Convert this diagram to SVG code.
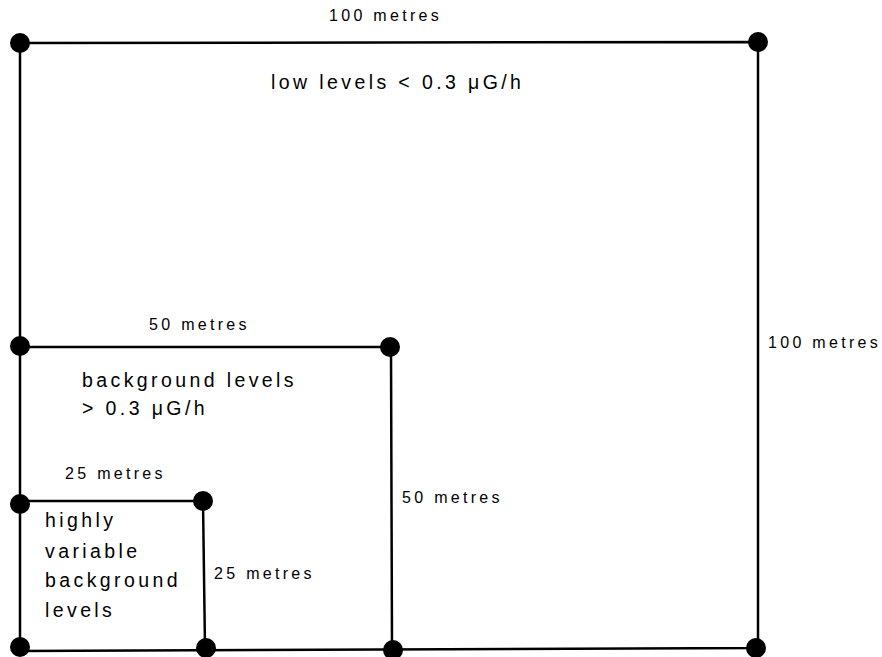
<svg xmlns="http://www.w3.org/2000/svg" width="882" height="657" viewBox="0 0 882 657">
<style>
.ln{stroke:#000;stroke-width:2.5;fill:none}
.dot{fill:#000}
.lbl{font-family:"Liberation Sans",Arial,sans-serif;font-size:16px;letter-spacing:3.3px;fill:#000}
.big{font-family:"Liberation Sans",Arial,sans-serif;font-size:19.5px;letter-spacing:3.4px;fill:#000}
</style>
<rect width="882" height="657" fill="#fff"/>
<g id="connectors">
<path class="ln" d="M20,43 L758,42 L758,648 L20,651 Z"/>
<path class="ln" d="M20,347 L391,347 L392,650"/>
<path class="ln" d="M20,501 L203,501 L205,648"/>
</g>
<g id="outer-square">
<circle class="dot" cx="20" cy="43" r="10"/>
<circle class="dot" cx="758" cy="42" r="10"/>
<circle class="dot" cx="756" cy="648" r="10"/>
<circle class="dot" cx="20" cy="647" r="10"/>
<text class="lbl" x="329" y="21">100 metres</text>
<text class="lbl" x="768" y="348">100 metres</text>
<text class="big" x="271" y="89">low levels &lt; 0.3 μG/h</text>
</g>
<g id="middle-square">
<circle class="dot" cx="20" cy="346" r="10"/>
<circle class="dot" cx="390" cy="347" r="10"/>
<circle class="dot" cx="393" cy="650" r="10"/>
<text class="lbl" x="149" y="330">50 metres</text>
<text class="lbl" x="402" y="503">50 metres</text>
<text class="big" x="82" y="387">background levels</text>
<text class="big" x="82" y="415">&gt; 0.3 μG/h</text>
</g>
<g id="small-square">
<circle class="dot" cx="20" cy="504" r="10"/>
<circle class="dot" cx="203" cy="501" r="10"/>
<circle class="dot" cx="206" cy="648" r="10"/>
<text class="lbl" x="65" y="479">25 metres</text>
<text class="lbl" x="214" y="579">25 metres</text>
<text class="big" x="45" y="527">highly</text>
<text class="big" x="45" y="558">variable</text>
<text class="big" x="45" y="587">background</text>
<text class="big" x="45" y="617">levels</text>
</g>
</svg>
